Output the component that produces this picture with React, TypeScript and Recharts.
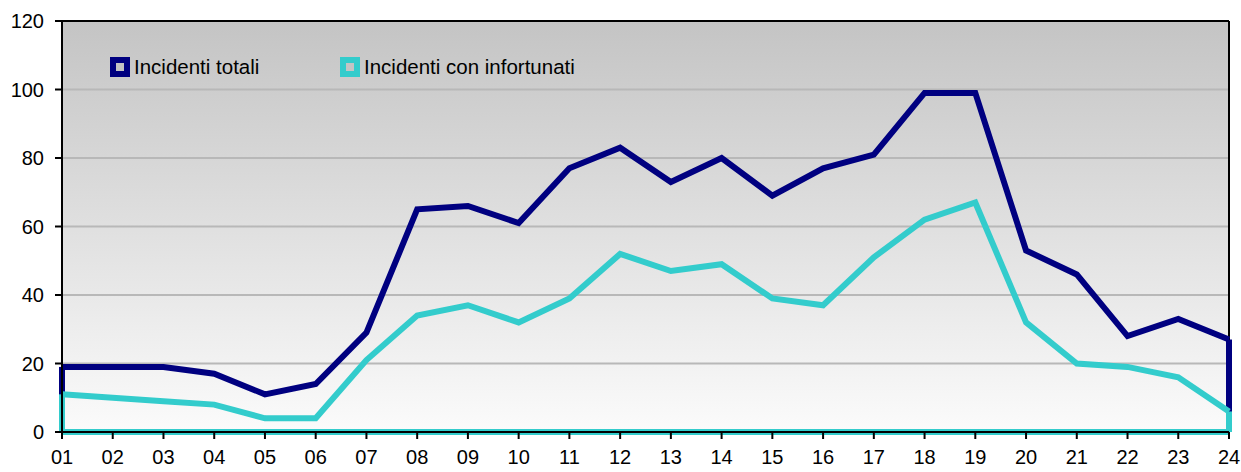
import { ComposedChart, Line, XAxis, YAxis, CartesianGrid, ReferenceLine } from 'recharts';

const hours = ['01', '02', '03', '04', '05', '06', '07', '08', '09', '10', '11', '12', '13', '14', '15', '16', '17', '18', '19', '20', '21', '22', '23', '24'];
const totali = [19, 19, 19, 17, 11, 14, 29, 65, 66, 61, 77, 83, 73, 80, 69, 77, 81, 99, 99, 53, 46, 28, 33, 27];
const infortunati = [11, 10, 9, 8, 4, 4, 21, 34, 37, 32, 39, 52, 47, 49, 39, 37, 51, 62, 67, 32, 20, 19, 16, 6];
const yTicks = [0, 20, 40, 60, 80, 100, 120];

const NAVY = '#000080';
const TEAL = '#33cccc';

const data = hours.map((h, i) => ({ hour: h, totali: totali[i], infortunati: infortunati[i] }));

const legendItems = [
  { label: 'Incidenti totali', color: NAVY, left: 110 },
  { label: 'Incidenti con infortunati', color: TEAL, left: 340 },
];

function LegendBox() {
  return (
    <>
      {legendItems.map((it) => (
        <div
          key={it.label}
          style={{ position: 'absolute', left: it.left, top: 56, display: 'flex', alignItems: 'center', fontSize: 20.5, color: '#000', lineHeight: '22px' }}
        >
          <svg width={21} height={21} style={{ marginRight: 3 }}>
            <rect x={3} y={3} width={14} height={14} fill="#c4c4c4" stroke={it.color} strokeWidth={6} />
          </svg>
          <span>{it.label}</span>
        </div>
      ))}
    </>
  );
}

export default function App() {
  const last = hours.length - 1;
  return (
    <div style={{ position: 'absolute', left: 0, top: 0, width: 1241, height: 472, background: '#fff', fontFamily: '"Liberation Sans", Arial, sans-serif' }}>
      <ComposedChart width={1241} height={472} data={data} margin={{ top: 21, right: 12, left: 0, bottom: 0 }}>
        <defs>
          <linearGradient id="bg" x1="0" y1="0" x2="0" y2="1">
            <stop offset="0%" stopColor="#c4c4c4" />
            <stop offset="100%" stopColor="#fbfbfb" />
          </linearGradient>
        </defs>
        <CartesianGrid vertical={false} fill="url(#bg)" stroke="#b8b8b8" strokeWidth={2} />
        <XAxis
          dataKey="hour"
          height={40}
          tickSize={7}
          tickMargin={11}
          stroke="#000"
          strokeWidth={2}
          tick={{ fill: '#000', fontSize: 20 }}
          interval={0}
        />
        <YAxis
          domain={[0, 120]}
          ticks={yTicks}
          width={62}
          tickSize={7}
          tickMargin={11}
          stroke="#000"
          strokeWidth={2}
          tick={{ fill: '#000', fontSize: 20 }}
        />
        <ReferenceLine y={120} stroke="#000" strokeWidth={2} />
        <ReferenceLine x={hours[last]} stroke="#000" strokeWidth={2} />
        <ReferenceLine segment={[{ x: hours[0], y: 0 }, { x: hours[0], y: totali[0] }]} stroke={NAVY} strokeWidth={6} />
        <ReferenceLine segment={[{ x: hours[last], y: 0 }, { x: hours[last], y: totali[last] }]} stroke={NAVY} strokeWidth={6} />
        <ReferenceLine segment={[{ x: hours[0], y: 0 }, { x: hours[0], y: infortunati[0] }]} stroke={TEAL} strokeWidth={6} />
        <ReferenceLine segment={[{ x: hours[last], y: 0 }, { x: hours[last], y: infortunati[last] }]} stroke={TEAL} strokeWidth={6} />
        <ReferenceLine y={0} stroke={TEAL} strokeWidth={6} />
        <Line type="linear" dataKey="totali" stroke={NAVY} strokeWidth={6} dot={false} isAnimationActive={false} />
        <Line type="linear" dataKey="infortunati" stroke={TEAL} strokeWidth={6} dot={false} isAnimationActive={false} />
      </ComposedChart>
      <LegendBox />
    </div>
  );
}
